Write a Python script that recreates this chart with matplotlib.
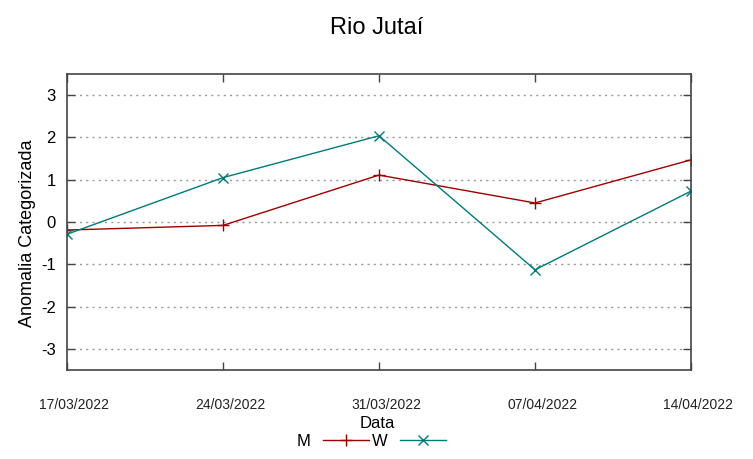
import matplotlib
matplotlib.use("Agg")
import matplotlib.pyplot as plt
import matplotlib.transforms as mtransforms
from datetime import datetime

plt.rcParams['font.family'] = ['Liberation Sans', 'DejaVu Sans']

dates = ["17/03/2022", "24/03/2022", "31/03/2022", "07/04/2022", "14/04/2022"]
m_values = [-0.19, -0.08, 1.11, 0.45, 1.47]
w_values = [-0.29, 1.05, 2.04, -1.13, 0.73]
y_ticks = [-3, -2, -1, 0, 1, 2, 3]

x = [datetime.strptime(d, "%d/%m/%Y") for d in dates]

fig = plt.figure(figsize=(7.53, 4.59), dpi=100)
ax = fig.add_axes([67/753, 1-370/459, (691-67)/753, (370-74)/459])

ax.plot(x, m_values, color="#a00000", lw=1.0, marker="+", ms=8, mew=1.0, label="M")
ax.plot(x, w_values, color="#007a7a", lw=1.0, marker="x", ms=7, mew=1.0, label="W")

ax.set_xlim(x[0], x[-1])
ax.set_ylim(-3.5, 3.5)
ax.set_yticks(y_ticks)
ax.set_yticklabels([str(t) for t in y_ticks], fontsize=12)
ax.set_xticks(x)
ax.set_xticklabels(dates, fontsize=10)
ax.tick_params(axis='both', direction='in', top=True, right=True, length=6, width=1, color="#444444")
ax.tick_params(axis='x', pad=25, labelcolor="#222222")
ax.tick_params(axis='y', pad=8)
ax.yaxis.grid(True, linestyle=(0, (1.5, 3)), color="#999999", lw=1)
for s in ax.spines.values():
    s.set_color("#444444")
    s.set_linewidth(1.2)

shift = mtransforms.ScaledTranslation(7.5/100, 0, fig.dpi_scale_trans)
for lbl in ax.get_xticklabels():
    lbl.set_transform(lbl.get_transform() + shift)
    lbl.set_va('center')

fig.text(377/753, 1-423/459, "Data", fontsize=12, ha='center', va='center')
fig.text(27/753, 1-233.5/459, "Anomalia Categorizada", fontsize=13, rotation=90,
         ha='center', va='center')
fig.suptitle("Rio Jutaí", fontsize=17, y=1-28/459, va='center')

leg = ax.legend(loc='center', bbox_to_anchor=(371.5/753, 1-441/459), bbox_transform=fig.transFigure,
                ncol=2, frameon=False, markerfirst=False, fontsize=12,
                handlelength=2.76, handletextpad=0.75, columnspacing=0.15, borderpad=0)

fig.savefig("out.png", dpi=100)
